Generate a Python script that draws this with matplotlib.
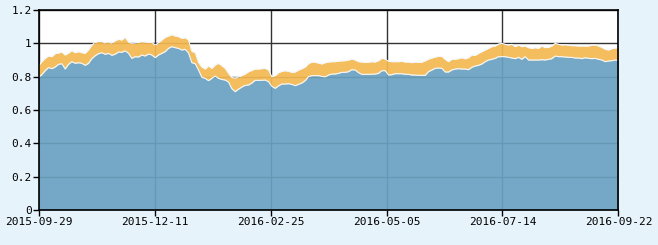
import numpy as np
import matplotlib
matplotlib.use("Agg")
import matplotlib.pyplot as plt

# total (top of orange band) and lower series (blue) left to right
total = [
    0.864, 0.89, 0.91, 0.924, 0.92, 0.938, 0.942, 0.948, 0.93, 0.942,
    0.956, 0.944, 0.95, 0.944, 0.94, 0.96, 0.99, 1.006, 1.012, 1.012,
    1.002, 1.01, 1.0, 1.016, 1.024, 1.02, 1.036, 1.008, 1.0, 1.002,
    1.006, 1.01, 1.008, 1.006, 1.006, 0.99, 1.002, 1.02, 1.036, 1.044,
    1.052, 1.044, 1.04, 1.03, 1.034, 1.02, 0.952, 0.944, 0.885, 0.858,
    0.846, 0.864, 0.85, 0.87, 0.88,
    0.866, 0.85, 0.82, 0.795, 0.792, 0.798, 0.806, 0.816, 0.83, 0.838,
    0.846, 0.846, 0.848, 0.85, 0.84, 0.8, 0.806, 0.824, 0.832, 0.836,
    0.832, 0.826, 0.828, 0.84, 0.848, 0.858, 0.878, 0.888, 0.886, 0.882,
    0.876, 0.884, 0.888, 0.89, 0.89, 0.893, 0.895, 0.896, 0.9, 0.906,
    0.9, 0.89, 0.888, 0.886, 0.887, 0.89, 0.888, 0.896, 0.91, 0.906,
    0.892, 0.89, 0.89, 0.89, 0.892, 0.888, 0.888, 0.884, 0.888, 0.886,
    0.887, 0.895, 0.905, 0.912, 0.918, 0.922, 0.922, 0.904, 0.89, 0.905,
    0.905, 0.908, 0.914, 0.907, 0.914, 0.93, 0.928, 0.94, 0.95, 0.96,
    0.97, 0.98, 0.984, 0.996, 1.0, 0.994, 0.99, 0.994, 0.98, 0.99,
    0.98, 0.984, 0.974, 0.97, 0.974, 0.97, 0.984, 0.974, 0.976, 0.984,
    1.0, 0.994, 0.99, 0.992, 0.988, 0.986, 0.986, 0.984, 0.984, 0.984,
    0.984, 0.99, 0.99, 0.984, 0.976, 0.964, 0.96, 0.968, 0.972, 0.974,
]
lower = [
    0.796, 0.812, 0.836, 0.855, 0.848, 0.858, 0.874, 0.878, 0.846, 0.874,
    0.89, 0.88, 0.884, 0.88, 0.868, 0.88, 0.908, 0.926, 0.938, 0.944,
    0.934, 0.94, 0.928, 0.935, 0.948, 0.946, 0.955, 0.94, 0.91, 0.92,
    0.918, 0.93, 0.924, 0.936, 0.93, 0.914, 0.93, 0.94, 0.95, 0.97,
    0.98, 0.974, 0.97, 0.96, 0.964, 0.942, 0.884, 0.878, 0.84, 0.796,
    0.79, 0.776, 0.79, 0.804, 0.79,
    0.783, 0.78, 0.768, 0.728, 0.71, 0.725, 0.738, 0.748, 0.75, 0.762,
    0.778, 0.778, 0.778, 0.78, 0.77, 0.742, 0.73, 0.745, 0.756, 0.756,
    0.758, 0.754, 0.746, 0.754, 0.762, 0.776, 0.8, 0.806, 0.806, 0.806,
    0.802, 0.798, 0.81, 0.816, 0.816, 0.82, 0.826, 0.826, 0.83, 0.842,
    0.84, 0.824, 0.814, 0.814, 0.814, 0.815, 0.816, 0.82, 0.836, 0.836,
    0.81, 0.812, 0.818, 0.818, 0.818, 0.814, 0.814, 0.81, 0.81, 0.808,
    0.808, 0.808, 0.83, 0.84, 0.85, 0.852, 0.85, 0.828, 0.828, 0.84,
    0.846, 0.848, 0.846, 0.846, 0.842, 0.856, 0.864, 0.868, 0.876, 0.89,
    0.9, 0.904, 0.91, 0.92, 0.92, 0.92, 0.916, 0.912, 0.908, 0.916,
    0.904, 0.92, 0.9, 0.9, 0.9, 0.9, 0.902, 0.9, 0.904, 0.908,
    0.924, 0.92, 0.92, 0.918, 0.916, 0.916, 0.912, 0.912, 0.908, 0.914,
    0.91, 0.908, 0.91, 0.904, 0.9, 0.89, 0.894, 0.896, 0.9, 0.898,
]
date_labels = ["2015-09-29", "2015-12-11", "2016-02-25",
               "2016-05-05", "2016-07-14", "2016-09-22"]
y_ticks = [0, 0.2, 0.4, 0.6, 0.8, 1, 1.2]

total = np.array(total)
lower = np.array(lower)
x = np.linspace(0, 1, len(total))

bg = "#e7f3fb"
fig = plt.figure(figsize=(6.58, 2.45), dpi=100, facecolor=bg)
ax = fig.add_axes([38.5 / 658, 35 / 245, 580 / 658, 200 / 245])
ax.set_facecolor("white")

# grid sits under the areas, which are slightly see-through
ax.grid(True, color="#333333", lw=1, zorder=1)
ax.fill_between(x, lower, total, color="#f4b951", alpha=0.92, lw=0, zorder=2)
ax.fill_between(x, 0, lower, color="#69a1c1", alpha=0.92, lw=0, zorder=2)
ax.plot(x, total, color="#f4f8fb", lw=0.8, zorder=3)
ax.plot(x, lower, color="#f4f8fb", lw=0.8, zorder=3)

ax.set_xlim(0, 1)
ax.set_ylim(0, 1.2)
ax.set_xticks(np.linspace(0, 1, len(date_labels)))
ax.set_xticklabels(date_labels)
ax.set_yticks(y_ticks)
ax.set_yticklabels([("%g" % v) for v in y_ticks])
ax.tick_params(direction="out", length=4, width=1, color="black",
               labelsize=8, pad=1)
for lab in ax.get_xticklabels() + ax.get_yticklabels():
    lab.set_family("DejaVu Sans Mono")
for s in ax.spines.values():
    s.set_color("black")
    s.set_linewidth(1.2)
    s.set_zorder(4)

fig.savefig("out.png", dpi=100, facecolor=bg)
